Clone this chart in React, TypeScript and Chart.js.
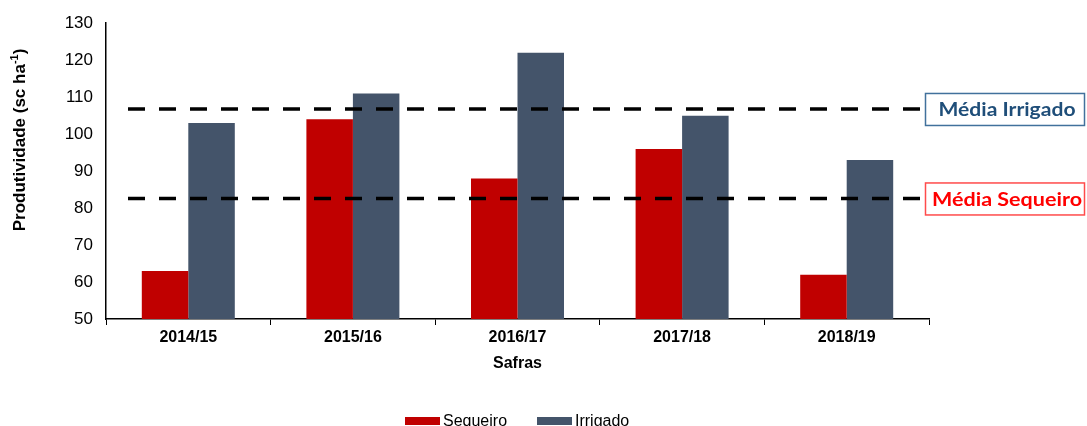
import React, { useEffect, useRef } from "react";
import { Chart, registerables } from "chart.js";

Chart.register(...registerables);

const categories = ["2014/15", "2015/16", "2016/17", "2017/18", "2018/19"];
const sequeiro = [63, 104, 88, 96, 62];
const irrigado = [103, 111, 122, 105, 93];
const yTicks = { min: 50, max: 130, step: 10 };
const mediaIrrigadoLabel = "Média Irrigado";
const mediaSequeiroLabel = "Média Sequeiro";
const yTitle = "Produtividade (sc ha";
const yTitleSup = "-1";
const xTitle = "Safras";

const RED = "#C00000";
const BLUE = "#44546A";
const FONT = "'Liberation Sans', Arial, sans-serif";

const mean = (a: number[]) => a.reduce((s, v) => s + v, 0) / a.length;

export default function App() {
  const ref = useRef<HTMLCanvasElement | null>(null);

  useEffect(() => {
    if (!ref.current) return;

    const overlay = {
      id: "overlay",
      afterDatasetsDraw(chart: any) {
        const { ctx, chartArea, scales } = chart;
        const y = scales.y;
        ctx.save();
        const lines = [
          { v: mean(irrigado), label: mediaIrrigadoLabel, text: "#1F4E79", border: "#41719C", w: 137 },
          { v: mean(sequeiro), label: mediaSequeiroLabel, text: "#FF0000", border: "#FF4B4B", w: 150 },
        ];
        for (const l of lines) {
          const py = y.getPixelForValue(l.v);
          ctx.beginPath();
          ctx.setLineDash([17, 14]);
          ctx.lineWidth = 3.5;
          ctx.strokeStyle = "#000";
          ctx.moveTo(chartArea.left + 22, py);
          ctx.lineTo(chartArea.right - 7, py);
          ctx.stroke();
          ctx.setLineDash([]);
          const bx = chartArea.right - 4;
          const bw = 1085 - bx;
          const by = py - 16;
          const bh = 33;
          ctx.fillStyle = "#fff";
          ctx.fillRect(bx, by, bw, bh);
          ctx.lineWidth = 1.5;
          ctx.strokeStyle = l.border;
          ctx.strokeRect(bx + 0.5, by + 0.5, bw - 1, bh - 1);
          ctx.font = "bold 19px Lato, 'Open Sans', sans-serif";
          const tw = ctx.measureText(l.label).width;
          ctx.fillStyle = l.text;
          ctx.textAlign = "center";
          ctx.textBaseline = "middle";
          const cx = bx + bw / 2 + 2;
          ctx.save();
          ctx.translate(cx, py + 1);
          ctx.scale(l.w / tw, 1);
          ctx.fillText(l.label, 0, 0);
          ctx.restore();
        }
        ctx.restore();
      },
      afterDraw(chart: any) {
        const { ctx, chartArea } = chart;
        ctx.save();
        ctx.translate(20, 140);
        ctx.rotate(-Math.PI / 2);
        ctx.fillStyle = "#000";
        ctx.textBaseline = "middle";
        ctx.font = `bold 17px ${FONT}`;
        const w1 = ctx.measureText(yTitle).width;
        ctx.font = `bold 11px ${FONT}`;
        const w2 = ctx.measureText(yTitleSup).width;
        ctx.font = `bold 17px ${FONT}`;
        const w3 = ctx.measureText(")").width;
        const total = w1 + w2 + w3;
        let x = -total / 2;
        ctx.textAlign = "left";
        ctx.fillText(yTitle, x, 0);
        x += w1;
        ctx.font = `bold 11px ${FONT}`;
        ctx.fillText(yTitleSup, x, -5);
        x += w2;
        ctx.font = `bold 17px ${FONT}`;
        ctx.fillText(")", x, 0);
        ctx.restore();

        ctx.save();
        ctx.fillStyle = "#000";
        ctx.font = `bold 16px ${FONT}`;
        ctx.textAlign = "center";
        ctx.textBaseline = "middle";
        ctx.fillText(xTitle, (chartArea.left + chartArea.right) / 2, 364);

        ctx.font = `16px ${FONT}`;
        ctx.textAlign = "left";
        ctx.textBaseline = "alphabetic";
        ctx.fillStyle = RED;
        ctx.fillRect(405, 417, 35, 8);
        ctx.fillStyle = "#000";
        ctx.fillText("Sequeiro", 443, 426);
        ctx.fillStyle = BLUE;
        ctx.fillRect(537, 417, 35, 8);
        ctx.fillStyle = "#000";
        ctx.fillText("Irrigado", 575, 426);
        ctx.restore();
      },
    };

    const chart = new Chart(ref.current, {
      type: "bar",
      data: {
        labels: categories,
        datasets: [
          { label: "Sequeiro", data: sequeiro, backgroundColor: RED },
          { label: "Irrigado", data: irrigado, backgroundColor: BLUE },
        ],
      },
      options: {
        animation: false,
        responsive: true,
        maintainAspectRatio: false,
        layout: { padding: { left: 0, right: 158, top: 21, bottom: 0 } },
        datasets: { bar: { categoryPercentage: 0.565, barPercentage: 1 } },
        plugins: { legend: { display: false }, tooltip: { enabled: false } },
        scales: {
          x: {
            afterFit: (s: any) => {
              s.height = 107;
            },
            grid: {
              display: true,
              drawOnChartArea: false,
              drawTicks: true,
              tickLength: 6,
              color: "#000",
              lineWidth: 1,
              offset: true,
            },
            border: { display: true, color: "#000", width: 1.5 },
            ticks: {
              color: "#000",
              font: { family: FONT, size: 16, weight: "bold" },
              padding: 3,
              maxRotation: 0,
            },
          },
          y: {
            min: yTicks.min,
            max: yTicks.max,
            afterFit: (s: any) => {
              s.width = 106;
            },
            grid: { display: false, drawTicks: false },
            border: { display: true, color: "#000", width: 1.5 },
            ticks: {
              stepSize: yTicks.step,
              color: "#000",
              font: { family: FONT, size: 17 },
              padding: 13,
            },
          },
        },
      },
      plugins: [overlay],
    });
    return () => chart.destroy();
  }, []);

  return (
    <div style={{ position: "absolute", left: 0, top: 0, width: 1087, height: 426, background: "#fff" }}>
      <canvas ref={ref} />
    </div>
  );
}
